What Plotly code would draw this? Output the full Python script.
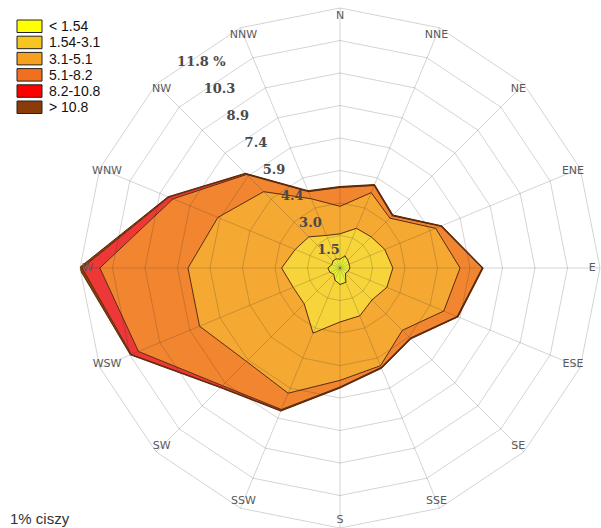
import numpy as np
import plotly.graph_objects as go

# ---------------- data ----------------
directions = ["N", "NNE", "NE", "ENE", "E", "ESE", "SE", "SSE",
              "S", "SSW", "SW", "WSW", "W", "WNW", "NW", "NNW"]
class_labels = ["< 1.54", "1.54-3.1", "3.1-5.1", "5.1-8.2", "8.2-10.8", "> 10.8"]

# frequency (%) of each wind-speed class for each direction
freq_lt_1_54   = [0.40, 0.60, 0.50, 0.45, 0.45, 0.40, 0.35, 0.70, 0.75, 0.60, 0.40, 0.50, 0.55, 0.40, 0.45, 0.45]
freq_1_54_3_1  = [1.15, 1.35, 1.50, 1.75, 1.95, 1.90, 1.70, 1.65, 1.70, 2.60, 1.90, 1.80, 2.10, 1.80, 1.55, 1.15]
freq_3_1_5_1   = [1.25, 1.75, 1.20, 2.50, 3.05, 2.80, 1.95, 2.45, 2.65, 2.95, 3.70, 4.60, 4.25, 3.80, 2.90, 1.80]
freq_5_1_8_2   = [0.85, 0.35, 0.15, 0.25, 1.00, 0.65, 0.50, 0.08, 0.30, 0.80, 1.55, 3.00, 4.00, 2.20, 1.10, 0.35]
freq_8_2_10_8  = [0.02, 0.02, 0.02, 0.02, 0.02, 0.02, 0.02, 0.02, 0.02, 0.05, 0.10, 0.35, 0.80, 0.20, 0.05, 0.02]
freq_gt_10_8   = [0.03, 0.03, 0.03, 0.03, 0.03, 0.03, 0.03, 0.03, 0.03, 0.03, 0.03, 0.05, 0.15, 0.05, 0.03, 0.03]

tick_values = [1.475, 2.95, 4.425, 5.9, 7.375, 8.85, 10.325, 11.8]
tick_labels = ["1.5", "3.0", "4.4", "5.9", "7.4", "8.9", "10.3", "11.8 %"]
calm_text = "1% ciszy"

# ---------------- styles ----------------
legend_colors = ["#FFFF00", "#F7C520", "#F5A020", "#F07020", "#FF0000", "#8B3A0A"]
fill_colors = ["rgb(232,240,60)", "rgb(246,212,58)", "rgb(245,168,50)",
               "rgb(242,133,48)", "rgb(238,55,55)", "rgb(139,58,10)"]
outline = "#5a2a0a"
grid = "rgba(40,40,40,0.2)"
R_MAX = tick_values[-1]

W, H = 601, 528
dom = dict(x=[79 / W, 1], y=[0, 520 / H])

classes = np.array([freq_lt_1_54, freq_1_54_3_1, freq_3_1_5_1,
                    freq_5_1_8_2, freq_8_2_10_8, freq_gt_10_8])
cumulative = np.cumsum(classes, axis=0)

fig = go.Figure()
theta_closed = directions + [directions[0]]
for i, name in enumerate(class_labels):
    r = list(cumulative[i]) + [cumulative[i][0]]
    fig.add_trace(go.Scatterpolar(
        r=r, theta=theta_closed, mode="lines", name=name,
        fill="toself" if i == 0 else "tonext",
        fillcolor=fill_colors[i],
        line=dict(color=outline, width=1),
        showlegend=False, hoverinfo="skip", subplot="polar"))

# text labels on an overlay polar with numeric angles
angles = np.arange(len(directions)) * 360.0 / len(directions)
fig.add_trace(go.Scatterpolar(
    r=[R_MAX * 0.97] * len(directions), theta=angles, mode="text",
    text=directions, textfont=dict(family="DejaVu Sans", size=11, color="#5a5a5a"),
    showlegend=False, hoverinfo="skip", subplot="polar3", cliponaxis=False))

label_angle = 326.0
fig.add_trace(go.Scatterpolar(
    r=[t - 0.55 for t in tick_values], theta=[label_angle] * len(tick_values), mode="text",
    text=tick_labels,
    textfont=dict(family="DejaVu Serif", size=13, color="#4a4a4a", weight="bold"),
    showlegend=False, hoverinfo="skip", subplot="polar3", cliponaxis=False))

# invisible trace so the grid overlay subplot exists
fig.add_trace(go.Scatterpolar(r=[0], theta=[directions[0]], mode="markers",
                              marker=dict(opacity=0), showlegend=False,
                              hoverinfo="skip", subplot="polar2"))

fig.update_layout(
    width=W, height=H,
    margin=dict(l=0, r=0, t=0, b=0),
    paper_bgcolor="white",
    showlegend=False,
    polar=dict(
        domain=dom, bgcolor="white", gridshape="linear",
        radialaxis=dict(range=[0, R_MAX], tickvals=tick_values, showticklabels=False,
                        ticks="", showline=False, showgrid=False),
        angularaxis=dict(type="category", categoryarray=directions, direction="clockwise",
                         rotation=90, showticklabels=False, ticks="", showgrid=False,
                         showline=False),
    ),
    polar2=dict(
        domain=dom, bgcolor="rgba(0,0,0,0)", gridshape="linear",
        radialaxis=dict(range=[0, R_MAX], tickvals=tick_values, showticklabels=False,
                        ticks="", showline=False, gridcolor=grid, gridwidth=1),
        angularaxis=dict(type="category", categoryarray=directions, direction="clockwise",
                         rotation=90, showticklabels=False, ticks="", gridcolor=grid,
                         linecolor=grid, showline=True),
    ),
    polar3=dict(
        domain=dom, bgcolor="rgba(0,0,0,0)",
        radialaxis=dict(range=[0, R_MAX], visible=False),
        angularaxis=dict(direction="clockwise", rotation=90, visible=False),
    ),
)

# custom legend (top-left)
shapes = []
annotations = []
for i, name in enumerate(class_labels):
    top = 20 + 16.2 * i
    bot = top + 12.5
    shapes.append(dict(type="rect", xref="paper", yref="paper",
                       x0=17 / W, x1=42 / W, y0=1 - bot / H, y1=1 - top / H,
                       fillcolor=legend_colors[i], line=dict(color="#222", width=1)))
    annotations.append(dict(xref="paper", yref="paper", x=47 / W, y=1 - (top + bot) / 2 / H,
                            text=name, showarrow=False, xanchor="left", yanchor="middle",
                            font=dict(family="Liberation Sans", size=14, color="#111")))

annotations.append(dict(xref="paper", yref="paper", x=8 / W, y=1 - 518 / H,
                        text=calm_text, showarrow=False, xanchor="left", yanchor="middle",
                        font=dict(family="Liberation Sans", size=15, color="#333")))

fig.update_layout(shapes=shapes, annotations=annotations)
fig.write_html("out.html", config={"displayModeBar": False},
               post_script="document.body.style.margin='0';document.body.style.overflow='hidden';")
